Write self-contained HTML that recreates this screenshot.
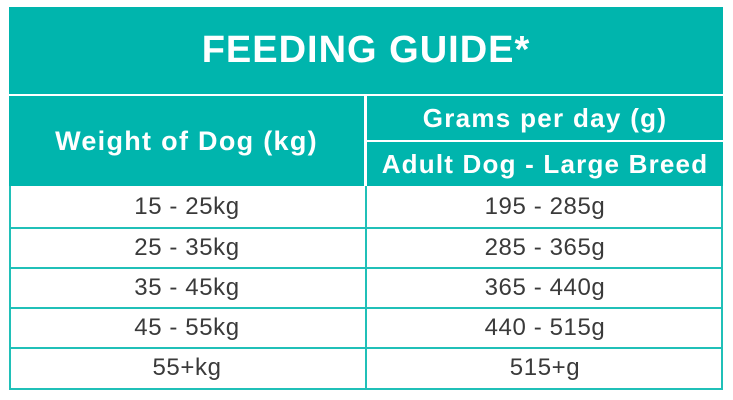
<!DOCTYPE html>
<html><head><style>
body{margin:0;width:733px;height:400px;background:#fff;position:relative;overflow:hidden;font-family:"Liberation Sans",sans-serif}
.a{position:absolute;box-sizing:border-box}
.t{background:#00b5ad;color:#fff;font-weight:bold;display:flex;align-items:center;justify-content:center;white-space:nowrap}
.c{color:#3a3a3a;font-size:24px;letter-spacing:0.6px;display:flex;align-items:center;justify-content:center}
.h{background:#20c0b8}
</style></head><body>
<div class="a t" style="left:9px;top:7px;width:714px;height:87px;font-size:38px;letter-spacing:1px">FEEDING GUIDE*</div>
<div class="a t" style="left:9px;top:96px;width:355px;height:90px;font-size:27px;letter-spacing:1.3px">Weight of Dog (kg)</div>
<div class="a t" style="left:367px;top:96px;width:356px;height:44px;font-size:26px;letter-spacing:1.3px">Grams per day (g)</div>
<div class="a t" style="left:367px;top:142px;width:356px;height:44px;font-size:26px;letter-spacing:1.2px">Adult Dog - Large Breed</div>
<div class="a" style="left:9px;top:186px;width:714px;height:204px;border:2px solid #20c0b8;border-top:none"></div>
<div class="a h" style="left:365px;top:186px;width:2px;height:204px"></div>
<div class="a h" style="left:9px;top:227px;width:714px;height:2px"></div>
<div class="a h" style="left:9px;top:267px;width:714px;height:2px"></div>
<div class="a h" style="left:9px;top:307px;width:714px;height:2px"></div>
<div class="a h" style="left:9px;top:347px;width:714px;height:2px"></div>
<div class="a c" style="left:9px;top:187px;width:356px;height:40px">15 - 25kg</div>
<div class="a c" style="left:367px;top:187px;width:356px;height:40px">195 - 285g</div>
<div class="a c" style="left:9px;top:228px;width:356px;height:40px">25 - 35kg</div>
<div class="a c" style="left:367px;top:228px;width:356px;height:40px">285 - 365g</div>
<div class="a c" style="left:9px;top:268px;width:356px;height:40px">35 - 45kg</div>
<div class="a c" style="left:367px;top:268px;width:356px;height:40px">365 - 440g</div>
<div class="a c" style="left:9px;top:308px;width:356px;height:40px">45 - 55kg</div>
<div class="a c" style="left:367px;top:308px;width:356px;height:40px">440 - 515g</div>
<div class="a c" style="left:9px;top:348px;width:356px;height:40px">55+kg</div>
<div class="a c" style="left:367px;top:348px;width:356px;height:40px">515+g</div>
</body></html>
